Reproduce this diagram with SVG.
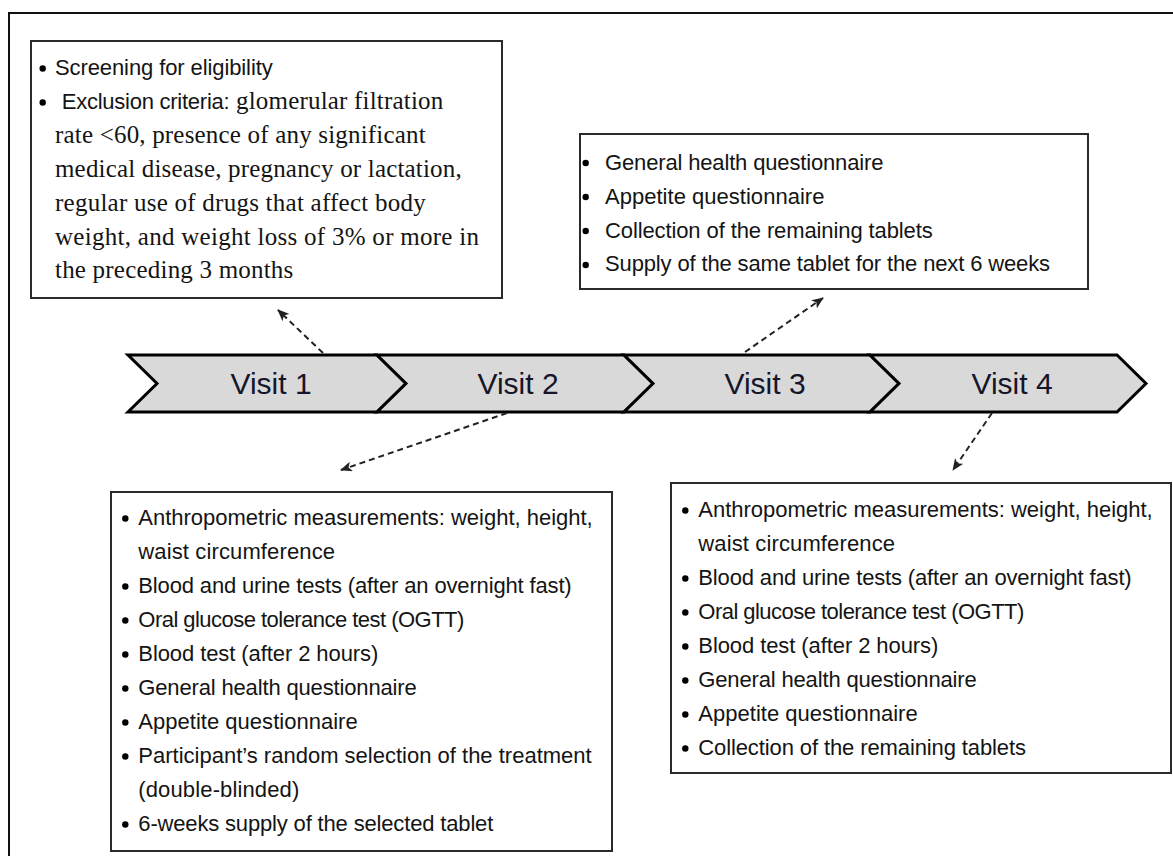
<svg xmlns="http://www.w3.org/2000/svg" width="1173" height="856" viewBox="0 0 1173 856">
<style>
.box{fill:#fff;stroke:#2a2a2a;stroke-width:2}
.chev{fill:#d9d9d9;stroke:#000;stroke-width:3;stroke-linejoin:miter}
.s{font-family:"Liberation Sans",Arial,sans-serif;font-size:22px;fill:#141414}
.r{font-family:"Liberation Serif","Times New Roman",serif;font-size:25px;fill:#141414}
.v{font-family:"Liberation Sans",Arial,sans-serif;font-size:30px;fill:#16162a;text-anchor:middle}
.b{fill:#000}
.con{fill:none;stroke:#222;stroke-width:2;stroke-dasharray:6,4}
</style>
<defs>
<marker id="ah" markerUnits="userSpaceOnUse" markerWidth="12" markerHeight="10" refX="11" refY="5" orient="auto">
<path d="M0,0 L12,5 L0,10 L3,5 Z" fill="#222"/>
</marker>
</defs>
<rect width="1173" height="856" fill="#fff"/>
<path d="M9,856 V13 H1173" fill="none" stroke="#111" stroke-width="2"/>

<g id="timeline">
<g id="visit1"><path class="chev" d="M128,355 H377 L406,383.5 L377,412 H128 L157,383.5 Z"/><text class="v" x="271" y="394">Visit 1</text></g>
<g id="visit2"><path class="chev" d="M377,355 H624 L653,383.5 L624,412 H377 L406,383.5 Z"/><text class="v" x="518" y="394">Visit 2</text></g>
<g id="visit3"><path class="chev" d="M624,355 H870 L899,383.5 L870,412 H624 L653,383.5 Z"/><text class="v" x="765" y="394">Visit 3</text></g>
<g id="visit4"><path class="chev" d="M870,355 H1117 L1146,383.5 L1117,412 H870 L899,383.5 Z"/><text class="v" x="1012" y="394">Visit 4</text></g>
</g>

<g id="box-visit1">
<rect class="box" x="31" y="41" width="471" height="257"/>
<circle class="b" cx="42.7" cy="68.5" r="3.2"/>
<circle class="b" cx="42.7" cy="102.5" r="3.2"/>
<text class="s" x="55" y="75" textLength="217.7">Screening for eligibility</text>
<text class="s" x="61.7" y="109" textLength="168">Exclusion criteria:</text>
<text class="r" x="236" y="109" textLength="207.3">glomerular filtration</text>
<text class="r" x="55" y="143" textLength="370.7">rate &lt;60, presence of any significant</text>
<text class="r" x="55" y="177" textLength="406.7">medical disease, pregnancy or lactation,</text>
<text class="r" x="55" y="211" textLength="370.7">regular use of drugs that affect body</text>
<text class="r" x="55" y="245" textLength="424">weight, and weight loss of 3% or more in</text>
<text class="r" x="55" y="278" textLength="238.3">the preceding 3 months</text>
</g>

<g id="box-visit3">
<rect class="box" x="580" y="134" width="508" height="155"/>
<circle class="b" cx="585.7" cy="163" r="3.2"/>
<circle class="b" cx="585.7" cy="197" r="3.2"/>
<circle class="b" cx="585.7" cy="231" r="3.2"/>
<circle class="b" cx="585.7" cy="265" r="3.2"/>
<text class="s" x="605" y="169.5" textLength="278.4">General health questionnaire</text>
<text class="s" x="605" y="203.5" textLength="219.4">Appetite questionnaire</text>
<text class="s" x="605" y="237.5" textLength="327.7">Collection of the remaining tablets</text>
<text class="s" x="605" y="271" textLength="445">Supply of the same tablet for the next 6 weeks</text>
</g>

<g id="box-visit2">
<rect class="box" x="111" y="492" width="501" height="359"/>
<circle class="b" cx="125.3" cy="518.5" r="3.2"/>
<circle class="b" cx="125.3" cy="586.5" r="3.2"/>
<circle class="b" cx="125.3" cy="620.5" r="3.2"/>
<circle class="b" cx="125.3" cy="654.5" r="3.2"/>
<circle class="b" cx="125.3" cy="688.5" r="3.2"/>
<circle class="b" cx="125.3" cy="722.5" r="3.2"/>
<circle class="b" cx="125.3" cy="756.5" r="3.2"/>
<circle class="b" cx="125.3" cy="824.5" r="3.2"/>
<text class="s" x="138.3" y="525" textLength="454.4">Anthropometric measurements: weight, height,</text>
<text class="s" x="138.3" y="559" textLength="196.7">waist circumference</text>
<text class="s" x="138.3" y="593" textLength="433.4">Blood and urine tests (after an overnight fast)</text>
<text class="s" x="138.3" y="627" textLength="326">Oral glucose tolerance test (OGTT)</text>
<text class="s" x="138.3" y="661" textLength="240">Blood test (after 2 hours)</text>
<text class="s" x="138.3" y="695" textLength="278.4">General health questionnaire</text>
<text class="s" x="138.3" y="729" textLength="219.4">Appetite questionnaire</text>
<text class="s" x="138.3" y="763" textLength="453.4">Participant’s random selection of the treatment</text>
<text class="s" x="138.3" y="797" textLength="161">(double-blinded)</text>
<text class="s" x="138.3" y="831" textLength="355">6-weeks supply of the selected tablet</text>
</g>

<g id="box-visit4">
<rect class="box" x="671" y="483" width="500" height="290"/>
<circle class="b" cx="685.3" cy="510.5" r="3.2"/>
<circle class="b" cx="685.3" cy="578.5" r="3.2"/>
<circle class="b" cx="685.3" cy="612.5" r="3.2"/>
<circle class="b" cx="685.3" cy="646.5" r="3.2"/>
<circle class="b" cx="685.3" cy="680.5" r="3.2"/>
<circle class="b" cx="685.3" cy="714.5" r="3.2"/>
<circle class="b" cx="685.3" cy="748.5" r="3.2"/>
<text class="s" x="698.3" y="517" textLength="454.4">Anthropometric measurements: weight, height,</text>
<text class="s" x="698.3" y="551" textLength="196.7">waist circumference</text>
<text class="s" x="698.3" y="585" textLength="433.4">Blood and urine tests (after an overnight fast)</text>
<text class="s" x="698.3" y="619" textLength="326">Oral glucose tolerance test (OGTT)</text>
<text class="s" x="698.3" y="653" textLength="240">Blood test (after 2 hours)</text>
<text class="s" x="698.3" y="687" textLength="278.4">General health questionnaire</text>
<text class="s" x="698.3" y="721" textLength="219.4">Appetite questionnaire</text>
<text class="s" x="698.3" y="755" textLength="327.7">Collection of the remaining tablets</text>
</g>

<g id="connectors">
<path class="con" d="M323,353 L278,310" marker-end="url(#ah)"/>
<path class="con" d="M507,413 L341,470" marker-end="url(#ah)"/>
<path class="con" d="M745,352 L823,298" marker-end="url(#ah)"/>
<path class="con" d="M992,413 L953,470" marker-end="url(#ah)"/>
</g>
</svg>
